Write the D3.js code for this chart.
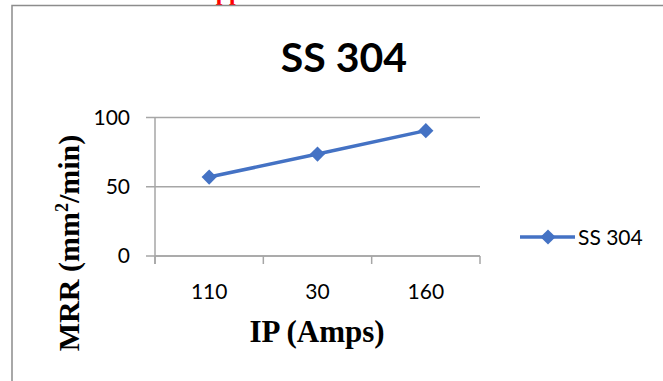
<!DOCTYPE html>
<html>
<head>
<meta charset="utf-8">
<script src="https://cdn.jsdelivr.net/npm/d3@7"></script>
<style>
  body { margin: 0; background: #fff; }
  svg { display: block; }
</style>
</head>
<body>
<div id="chart"></div>
<script>
// dados
const categorias = ["110", "30", "160"];
const valores = [57, 73.6, 90.5];
const ticksY = [0, 50, 100];
const nomeSerie = "SS 304";

const width = 663, height = 381;
const plot = { left: 155, right: 480, top: 117.5, bottom: 256 };
const azul = "#4472C4";
const cinza = "#a6a6a6";
const fonteSans = "Lato, 'Open Sans', sans-serif";
const fonteSerif = "'Liberation Serif', serif";

const svg = d3.select("#chart").append("svg")
    .attr("width", width)
    .attr("height", height);

// texto vermelho cortado no topo (so as hastes aparecem)
svg.append("text")
    .attr("x", 229)
    .attr("y", 0)
    .attr("text-anchor", "middle")
    .attr("font-family", fonteSerif)
    .attr("font-weight", "bold")
    .attr("font-size", 24)
    .attr("fill", "#ff0000")
    .text("pp");

// moldura cortada da figura
svg.append("path")
    .attr("d", `M12,${height} V5.5 H${width}`)
    .attr("fill", "none")
    .attr("stroke", "#8c8c8c")
    .attr("stroke-width", 1.5);

//Escalas
const xScale = d3.scaleBand()
    .domain(categorias)
    .range([plot.left, plot.right])
    .paddingInner(0)
    .paddingOuter(0);

const yScale = d3.scaleLinear()
    .domain([0, 100])
    .range([plot.bottom, plot.top]);

// grade horizontal
svg.append("g")
    .selectAll("line")
    .data(ticksY)
    .join("line")
    .attr("x1", plot.left - 9)
    .attr("x2", plot.right)
    .attr("y1", d => yScale(d))
    .attr("y2", d => yScale(d))
    .attr("stroke", cinza)
    .attr("stroke-width", 1.5);

// eixo y
const eixoY = svg.append("g")
    .attr("transform", `translate(${plot.left}, 0)`)
    .call(d3.axisLeft(yScale).tickValues(ticksY).tickSize(9).tickSizeOuter(0).tickPadding(16));
eixoY.select(".domain").attr("stroke", cinza).attr("stroke-width", 1.5)
    .attr("d", `M0,${plot.top}V${plot.bottom + 8}`);
eixoY.selectAll(".tick line").attr("stroke", "none");
eixoY.selectAll(".tick text")
    .attr("font-family", fonteSans)
    .attr("font-size", 21)
    .attr("fill", "#000");

// eixo x
const limites = categorias.map(d => xScale(d)).concat([xScale(categorias[categorias.length - 1]) + xScale.bandwidth()]);
svg.append("line")
    .attr("x1", plot.left).attr("x2", plot.right)
    .attr("y1", plot.bottom).attr("y2", plot.bottom)
    .attr("stroke", cinza).attr("stroke-width", 1.5);
svg.append("g")
    .selectAll("line")
    .data(limites)
    .join("line")
    .attr("x1", d => d).attr("x2", d => d)
    .attr("y1", plot.bottom).attr("y2", plot.bottom + 8)
    .attr("stroke", cinza).attr("stroke-width", 1.5);

svg.append("g")
    .selectAll("text")
    .data(categorias)
    .join("text")
    .attr("x", d => xScale(d) + xScale.bandwidth() / 2)
    .attr("y", 299)
    .attr("text-anchor", "middle")
    .attr("font-family", fonteSans)
    .attr("font-size", 21)
    .text(d => d);

// linha da serie
const linha = d3.line()
    .x((d, i) => xScale(categorias[i]) + xScale.bandwidth() / 2)
    .y(d => yScale(d));

svg.append("path")
    .datum(valores)
    .attr("d", linha)
    .attr("fill", "none")
    .attr("stroke", azul)
    .attr("stroke-width", 3.5);

const diamante = d3.symbol().type(d3.symbolSquare).size(115);
svg.append("g")
    .selectAll("path")
    .data(valores)
    .join("path")
    .attr("d", diamante)
    .attr("transform", (d, i) => `translate(${xScale(categorias[i]) + xScale.bandwidth() / 2}, ${yScale(d)}) rotate(45)`)
    .attr("fill", azul);

// titulo
svg.append("text")
    .attr("x", 344)
    .attr("y", 72)
    .attr("text-anchor", "middle")
    .attr("font-family", fonteSans)
    .attr("font-weight", "bold")
    .attr("font-size", 41)
    .text("SS 304");

// titulos dos eixos
svg.append("text")
    .attr("x", 317)
    .attr("y", 342)
    .attr("text-anchor", "middle")
    .attr("font-family", fonteSerif)
    .attr("font-weight", "bold")
    .attr("font-size", 31)
    .text("IP (Amps)");

const tituloY = svg.append("text")
    .attr("transform", "translate(79, 243) rotate(-90)")
    .attr("text-anchor", "middle")
    .attr("font-family", fonteSerif)
    .attr("font-weight", "bold")
    .attr("font-size", 30);
tituloY.append("tspan").text("MRR (mm");
tituloY.append("tspan").attr("font-size", 18).attr("dy", -11).text("2");
tituloY.append("tspan").attr("dy", 11).text("/min)");

// legenda
const legenda = svg.append("g").attr("transform", "translate(520, 237)");
legenda.append("line")
    .attr("x1", 0).attr("x2", 55)
    .attr("stroke", azul).attr("stroke-width", 3.5);
legenda.append("path")
    .attr("d", diamante)
    .attr("transform", "translate(28, 0) rotate(45)")
    .attr("fill", azul);
legenda.append("text")
    .attr("x", 58)
    .attr("y", 7.5)
    .attr("font-family", fonteSans)
    .attr("font-size", 21)
    .text(nomeSerie);
</script>
</body>
</html>
